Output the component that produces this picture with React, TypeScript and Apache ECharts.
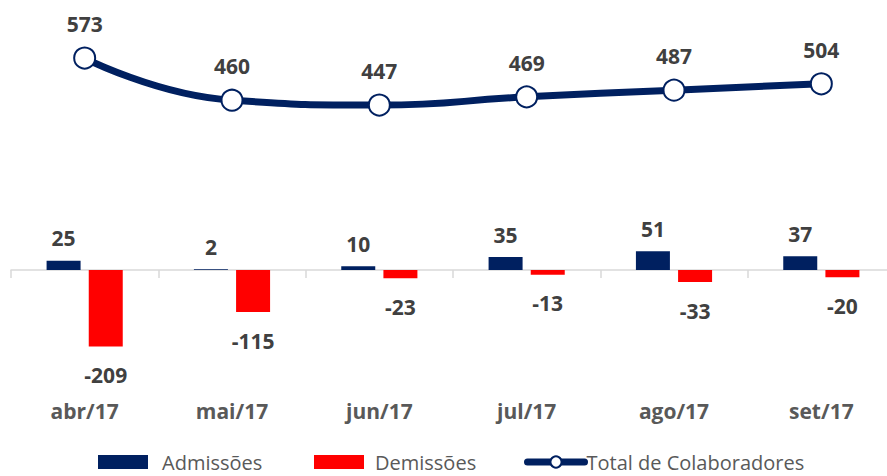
import React, { useEffect, useRef } from "react";
import * as echarts from "echarts";

const categories = ["abr/17", "mai/17", "jun/17", "jul/17", "ago/17", "set/17"];
const admissoes = [25, 2, 10, 35, 51, 37];
const demissoes = [-209, -115, -23, -13, -33, -20];
const totalColaboradores = [573, 460, 447, 469, 487, 504];

const NAVY = "#002060";
const RED = "#FF0000";
const FONT = "'Open Sans', 'Noto Sans', sans-serif";

export default function App() {
  const ref = useRef<HTMLDivElement>(null);
  useEffect(() => {
    if (!ref.current) return;
    const chart = echarts.init(ref.current, null, { renderer: "svg" });
    const valueLabel = {
      show: true,
      color: "#404040",
      fontWeight: "bold" as const,
      fontSize: 21,
      fontFamily: FONT,
    };
    const legendBase = {
      top: 451,
      padding: 0,
      itemHeight: 14,
      textStyle: { color: "#595959", fontSize: 20, lineHeight: 22, fontFamily: FONT },
    };
    chart.setOption({
      animation: false,
      backgroundColor: "#ffffff",
      textStyle: { fontFamily: FONT },
      legend: [
        {
          ...legendBase,
          left: 98,
          itemWidth: 50,
          textStyle: { ...legendBase.textStyle, padding: [0, 0, 0, 9] },
          data: [{ name: "Admissões", icon: "rect" }],
        },
        {
          ...legendBase,
          left: 314,
          itemWidth: 50,
          textStyle: { ...legendBase.textStyle, padding: [0, 0, 0, 6] },
          data: [{ name: "Demissões", icon: "rect" }],
        },
        {
          ...legendBase,
          left: 524,
          itemWidth: 57,
          lineStyle: { width: 7, cap: "round" },
          textStyle: { ...legendBase.textStyle, padding: [0, 0, 0, -3] },
          data: [{ name: "Total de Colaboradores" }],
        },
      ],
      grid: { left: 11, width: 884, top: 20, height: 378, containLabel: false },
      xAxis: [
        {
          type: "category",
          data: categories,
          position: "bottom",
          axisLine: { show: true, onZero: true, onZeroAxisIndex: 0, lineStyle: { color: "#d9d9d9", width: 1.5 } },
          axisTick: { show: true, length: 8, lineStyle: { color: "#d9d9d9", width: 1.5 } },
          axisLabel: { show: false },
          splitLine: { show: false },
        },
        {
          type: "category",
          data: categories,
          position: "bottom",
          axisLine: { show: false, onZero: false },
          axisTick: { show: false },
          axisLabel: {
            show: true,
            margin: 2,
            color: "#595959",
            fontWeight: "bold",
            fontSize: 21,
            fontFamily: FONT,
          },
          splitLine: { show: false },
        },
      ],
      yAxis: [
        { type: "value", min: -349, max: 681, show: false, splitLine: { show: false } },
        { type: "value", min: -338, max: 675, show: false, splitLine: { show: false } },
      ],
      series: [
        {
          name: "Admissões",
          type: "bar",
          xAxisIndex: 0,
          yAxisIndex: 0,
          data: admissoes,
          barWidth: 34,
          barGap: "24%",
          itemStyle: { color: NAVY },
          label: { ...valueLabel, position: "top", distance: 12 },
        },
        {
          name: "Demissões",
          type: "bar",
          xAxisIndex: 0,
          yAxisIndex: 0,
          data: demissoes,
          barWidth: 34,
          itemStyle: { color: RED },
          label: { ...valueLabel, position: "bottom", distance: 18 },
        },
        {
          name: "Total de Colaboradores",
          type: "line",
          xAxisIndex: 0,
          yAxisIndex: 1,
          data: totalColaboradores,
          smooth: true,
          symbol: "circle",
          symbolSize: 21,
          lineStyle: { color: NAVY, width: 7 },
          itemStyle: { color: "#ffffff", borderColor: NAVY, borderWidth: 2 },
          label: { ...valueLabel, position: "top", distance: 12 },
          z: 3,
        },
      ],
    });
    return () => chart.dispose();
  }, []);
  return (
    <div
      style={{
        position: "fixed",
        left: 0,
        top: 0,
        width: 887,
        height: 476,
        overflow: "hidden",
        background: "#fff",
      }}
    >
      <div ref={ref} style={{ width: 900, height: 476 }} />
    </div>
  );
}
